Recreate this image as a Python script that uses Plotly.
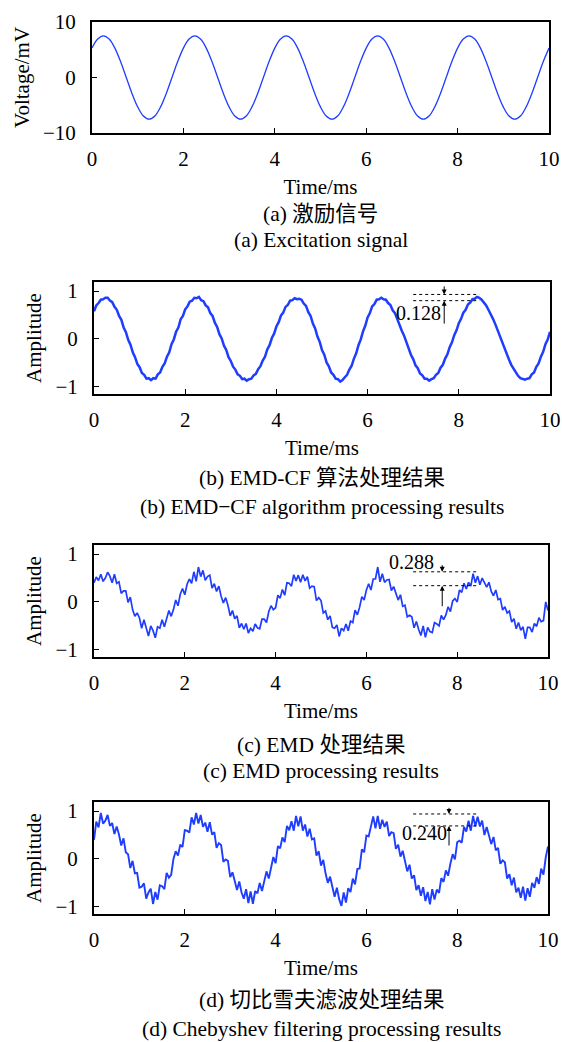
import plotly.graph_objects as go

# ---------------- data ----------------
time_ticks = [0, 2, 4, 6, 8, 10]
step_a = 0.125   # ms between samples of panel (a)
step_n = 0.05    # ms between samples of panels (b)-(d)

excitation_mv = [
    5.30, 6.93, 7.50, 6.93, 5.30, 2.87, 0.00, -2.87, -5.30, -6.93, -7.50, -6.93, -5.30, -2.87, 0.00, 2.87,
    5.30, 6.93, 7.50, 6.93, 5.30, 2.87, 0.00, -2.87, -5.30, -6.93, -7.50, -6.93, -5.30, -2.87, 0.00, 2.87,
    5.30, 6.93, 7.50, 6.93, 5.30, 2.87, 0.00, -2.87, -5.30, -6.93, -7.50, -6.93, -5.30, -2.87, 0.00, 2.87,
    5.30, 6.93, 7.50, 6.93, 5.30, 2.87, 0.00, -2.87, -5.30, -6.93, -7.50, -6.93, -5.30, -2.87, 0.00, 2.87,
    5.30, 6.93, 7.50, 6.93, 5.30, 2.87, 0.00, -2.87, -5.30, -6.93, -7.50, -6.93, -5.30, -2.87, 0.00, 2.87,
    5.30,
]

emd_cf = [
    .58, .70, .75, .82, .83, .86,
    .86, .80, .77, .67, .61, .48, .40, .24, .14, -.02, -.12, -.28, -.38, -.52, -.59, -.71, -.75, -.83, -.82, -.86,
    -.82, -.83, -.74, -.70, -.58, -.51, -.37, -.28, -.11, -.01, .15, .24, .41, .48, .62, .68, .78, .80, .86, .85,
    .88, .81, .79, .70, .66, .54, .48, .34, .25, .10, .01, -.14, -.23, -.38, -.46, -.58, -.64, -.74, -.77, -.84, -.83, -.87,
    -.84, -.83, -.76, -.73, -.63, -.57, -.45, -.37, -.22, -.13, .02, .11, .26, .35, .49, .55, .67, .71, .80, .81, .85, .83,
    .84, .82, .74, .69, .56, .48, .32, .22, .05, -.06, -.23, -.33, -.49, -.57, -.70, -.75, -.83, -.84, -.89,
    -.86, -.80, -.75, -.64, -.56, -.41, -.30, -.13, -.01, .16, .28, .45, .54, .68, .73, .82, .83, .86,
    .83, .82, .75, .71, .60, .54, .41, .32, .17, .07, -.08, -.18, -.33, -.42, -.55, -.61, -.72, -.76, -.83, -.83, -.87,
    -.84, -.82, -.75, -.71, -.60, -.54, -.41, -.32, -.17, -.07, .08, .18, .33, .42, .55, .61, .72, .76, .83, .84, .88,
    .86, .82, .76, .70, .61, .53, .42, .31, .18, .06, -.07, -.19, -.32, -.43, -.54, -.62, -.71, -.77, -.82, -.84, -.85,
    -.83, -.82, -.74, -.70, -.58, -.51, -.37, -.27, -.11, -.01, .15,
]

emd_only = [
    .40, .52, .45, .58, .43, .50, .62,
    .54, .40, .58, .39, .42, .18, .23, .23, -.01, .10, -.16, -.30, -.23, -.33, -.55, -.37, -.56, -.71, -.50, -.60,
    -.75, -.52, -.55, -.37, -.52, -.35, -.18, -.30, -.16, .04, -.08, .16, .28, .15, .37, .48, .39, .63, .43, .73, .53,
    .66, .45, .53, .56, .29, .38, .22, .33, .12, -.02, .09, -.07, -.29, -.18, -.35, -.29, -.54, -.45, -.57, -.45, -.65, -.55,
    -.61, -.46, -.54, -.56, -.36, -.36, -.43, -.20, -.08, -.16, -.12, .14, .08, .26, .14, .40, .39, .33, .57, .44, .56, .41,
    .57, .44, .53, .29, .33, .32, .03, .09, .03, -.23, -.19, -.37, -.29, -.53, -.55, -.48, -.72, -.55,
    -.60, -.46, -.60, -.40, -.43, -.17, -.27, -.11, .11, .04, .25, .38, .25, .48, .48, .73, .42,
    .59, .41, .46, .47, .24, .32, .17, .04, .15, -.09, -.07, -.31, -.28, -.31, -.54, -.41, -.57, -.70, -.50, -.74,
    -.53, -.62, -.64, -.43, -.46, -.50, -.28, -.37, -.27, -.10, -.20, .02, .07, .00, .25, .20, .39, .27, .41, .33, .59, .40, .54,
    .36, .50, .42, .31, .41, .22, .13, .25, .05, .07, -.17, -.10, -.23, -.19, -.42, -.35, -.56, -.43, -.59, -.52, -.77, -.53,
    -.53, -.63, -.45, -.51, -.33, -.41, -.39, .00, -.18,
]

chebyshev = [
    .40, .78, .66, .96, .74, .80,
    .92, .69, .75, .52, .68, .51, .28, .43, .14, .10, -.19, -.04, -.30, -.29, -.60, -.58, -.51, -.83, -.70, -.62, -.94,
    -.69, -.85, -.55, -.57, -.63, -.29, -.39, -.33, .00, .16, .07, .30, .25, .60, .59, .55, .87, .72, .96, .74,
    .92, .67, .76, .57, .77, .51, .56, .23, .33, .29, -.06, -.01, -.04, -.38, -.28, -.46, -.65, -.47, -.70, -.83, -.63, -.92, -.68,
    -.94, -.67, -.72, -.50, -.67, -.44, -.26, -.41, -.15, .04, -.09, .27, .22, .45, .35, .69, .60, .79, .59, .90, .68,
    .89, .59, .72, .47, .63, .41, .43, .07, .16, -.14, -.02, -.30, -.50, -.37, -.62, -.79, -.60, -.84, -.98, -.70,
    -.91, -.61, -.69, -.41, -.53, -.21, -.20, .20, .14, .49, .47, .71, .89, .64, .90,
    .63, .82, .67, .78, .48, .56, .54, .21, .30, .05, .17, -.08, -.26, -.12, -.41, -.34, -.65, -.55, -.77, -.59, -.88, -.69, -.95,
    -.63, -.85, -.64, -.71, -.40, -.48, -.24, -.35, -.10, .10, -.01, .35, .38, .34, .67, .57, .80, .59, .90, .68,
    .88, .68, .80, .50, .67, .49, .31, .46, .18, .23, -.10, -.03, -.07, -.41, -.32, -.55, -.39, -.70, -.60, -.81, -.58, -.87,
    -.61, -.79, -.50, -.60, -.38, -.52, -.20, -.33, .03, .26,
]

# peak-difference markers: (label, upper level, lower level)
diff_labels = ["0.128", "0.288", "0.240"]
diff_upper = [0.93, 0.63, 0.94]
diff_lower = [0.80, 0.34, 0.69]

captions = [
    ("(a) 激励信号", "(a) Excitation signal"),
    ("(b) EMD-CF 算法处理结果", "(b) EMD\u2212CF algorithm processing results"),
    ("(c) EMD 处理结果", "(c) EMD processing results"),
    ("(d) 切比雪夫滤波处理结果", "(d) Chebyshev filtering processing results"),
]

# ---------------- figure ----------------
W, H = 562, 1042
FONT = "Liberation Serif, Times New Roman, Noto Sans CJK SC, serif"
BLUE = "#1f3dff"
FS = 21
CAP_FS = 21.5


def t_axis(n, step):
    return [round(i * step, 4) for i in range(n)]


panels = [
    dict(y=excitation_mv, step=step_a, shape="spline", lw=1.3, ytitle="Voltage/mV",
         yrange=[-10, 10], yticks=[-10, 0, 10], box=(92, 549, 22, 133), capy=(214, 240)),
    dict(y=emd_cf, step=step_n, shape="linear", lw=2.5, ytitle="Amplitude",
         yrange=[-1.15, 1.19], yticks=[-1, 0, 1], box=(94, 550, 282, 394), capy=(478, 507)),
    dict(y=emd_only, step=step_n, shape="linear", lw=1.7, ytitle="Amplitude",
         yrange=[-1.15, 1.19], yticks=[-1, 0, 1], box=(94, 548, 545, 657), capy=(745, 771)),
    dict(y=chebyshev, step=step_n, shape="linear", lw=1.9, ytitle="Amplitude",
         yrange=[-1.15, 1.19], yticks=[-1, 0, 1], box=(94, 548, 802, 914), capy=(1000, 1029)),
]

fig = go.Figure()
layout = dict(width=W, height=H, margin=dict(l=0, r=0, t=0, b=0),
              paper_bgcolor="white", plot_bgcolor="white", showlegend=False,
              font=dict(family=FONT, size=FS, color="black"))
annotations = []
shapes = []

for i, p in enumerate(panels, start=1):
    xs = "x" if i == 1 else f"x{i}"
    ys = "y" if i == 1 else f"y{i}"
    xn = "xaxis" if i == 1 else f"xaxis{i}"
    yn = "yaxis" if i == 1 else f"yaxis{i}"
    l, r, t, b = p["box"]
    fig.add_trace(go.Scatter(x=t_axis(len(p["y"]), p["step"]), y=p["y"], mode="lines",
                             line=dict(color=BLUE, width=p["lw"], shape=p["shape"]),
                             xaxis=xs, yaxis=ys, hoverinfo="skip"))
    common = dict(showline=True, linewidth=2, linecolor="black", mirror=True,
                  showgrid=False, zeroline=False, ticks="inside", ticklen=5,
                  tickwidth=1, tickcolor="black", automargin=False,
                  tickfont=dict(family=FONT, size=FS, color="black"))
    layout[xn] = dict(common, domain=[l / W, r / W], range=[0, 10], tickvals=time_ticks,
                      anchor=ys, ticklabelstandoff=6,
                      title=dict(text="Time/ms", standoff=9,
                                 font=dict(family=FONT, size=FS, color="black")))
    layout[yn] = dict(common, domain=[1 - b / H, 1 - t / H], range=p["yrange"],
                      tickvals=p["yticks"], anchor=xs, ticklabelstandoff=10,
                      title=dict(text=p["ytitle"], standoff=8,
                                 font=dict(family=FONT, size=FS, color="black")))
    cx = (l + r) / 2 / W
    for txt, cy in zip(captions[i - 1], p["capy"]):
        annotations.append(dict(text=txt, x=cx, y=1 - cy / H, xref="paper", yref="paper",
                                showarrow=False, xanchor="center", yanchor="middle",
                                font=dict(family=FONT, size=CAP_FS, color="black")))

# peak-difference markers in panels b-d
marker_geom = [
    dict(x0=7.0, x1=8.45, ax=7.68, top_tail=1.13, low_tail=0.29, tx=7.12, ty=0.54),
    dict(x0=7.03, x1=8.48, ax=7.67, top_tail=0.80, low_tail=-0.12, tx=7.0, ty=0.83),
    dict(x0=7.03, x1=8.46, ax=7.82, top_tail=1.10, low_tail=0.25, tx=7.27, ty=0.54),
]
for k, g in enumerate(marker_geom):
    i = k + 2
    xs, ys = f"x{i}", f"y{i}"
    for lev in (diff_upper[k], diff_lower[k]):
        shapes.append(dict(type="line", xref=xs, yref=ys, x0=g["x0"], x1=g["x1"], y0=lev, y1=lev,
                           line=dict(color="black", width=1, dash="dot")))
    annotations.append(dict(x=g["ax"], y=diff_upper[k], ax=g["ax"], ay=g["top_tail"],
                            xref=xs, yref=ys, axref=xs, ayref=ys, text="", showarrow=True,
                            arrowhead=2, arrowsize=1, arrowwidth=1, arrowcolor="black"))
    annotations.append(dict(x=g["ax"], y=diff_lower[k], ax=g["ax"], ay=g["low_tail"],
                            xref=xs, yref=ys, axref=xs, ayref=ys, text="", showarrow=True,
                            arrowhead=2, arrowsize=1, arrowwidth=1, arrowcolor="black"))
    annotations.append(dict(x=g["tx"], y=g["ty"], xref=xs, yref=ys, text=diff_labels[k],
                            showarrow=False, xanchor="center", yanchor="middle",
                            font=dict(family=FONT, size=FS - 1, color="black")))

layout["annotations"] = annotations
layout["shapes"] = shapes
fig.update_layout(**layout)
fig.write_html("out.html", config={"displayModeBar": False},
               post_script="document.body.style.margin='0';")
